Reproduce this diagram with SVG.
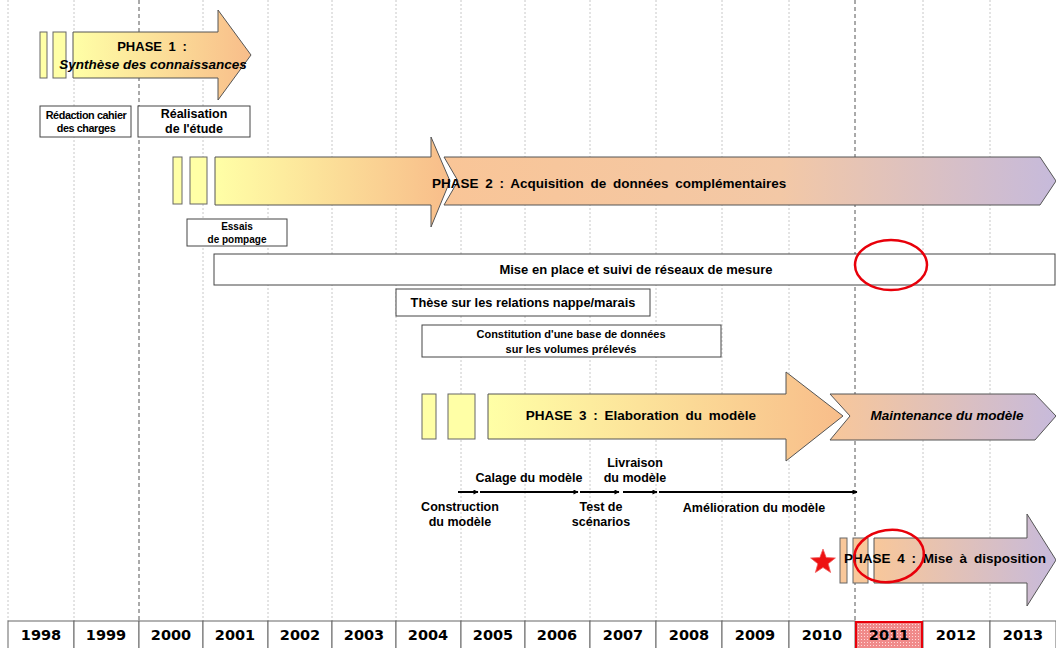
<svg xmlns="http://www.w3.org/2000/svg" width="1056" height="648" viewBox="0 0 1056 648">
<defs>
<linearGradient id="gYO" x1="0" y1="0" x2="1" y2="0"><stop offset="0" stop-color="#ffffa6"/><stop offset="1" stop-color="#f8bd8a"/></linearGradient>
<linearGradient id="gOL" x1="0" y1="0" x2="1" y2="0"><stop offset="0" stop-color="#f9c597"/><stop offset="0.55" stop-color="#f3c8a6"/><stop offset="1" stop-color="#c6badb"/></linearGradient>
<linearGradient id="gP4" x1="0" y1="0" x2="1" y2="0"><stop offset="0" stop-color="#f8c79a"/><stop offset="1" stop-color="#c7badb"/></linearGradient>
<pattern id="dots" width="3" height="3" patternUnits="userSpaceOnUse"><rect width="3" height="3" fill="#f08a8a"/><rect width="1" height="1" fill="#ffd8d8"/></pattern>
<marker id="ah" viewBox="0 0 10 10" refX="9" refY="5" markerWidth="6" markerHeight="5" orient="auto" markerUnits="userSpaceOnUse"><path d="M0,0 L10,5 L0,10 z" fill="#000"/></marker>
</defs>
<style>
.grid{stroke:#c8c8c8;stroke-width:1;stroke-dasharray:2 2}
.gridd{stroke:#555;stroke-width:1;stroke-dasharray:4 3}
.sq{fill:#ffffa6;stroke:#666;stroke-width:1}
.sqo{fill:#f8c79a;stroke:#666;stroke-width:1}
.arr{stroke:#555;stroke-width:1}
.box{fill:#fff;stroke:#444;stroke-width:1}
.t{font-family:"Liberation Sans",Arial,sans-serif;font-weight:bold;fill:#000;text-anchor:middle}
.ti{font-style:italic}
.ph{word-spacing:3px}
.yr{font-family:"DejaVu Sans",Verdana,sans-serif;font-weight:bold;font-size:14.5px;fill:#000;text-anchor:middle}
.cell{fill:#fff;stroke:#666;stroke-width:1}
.ln{stroke:#000;stroke-width:2;fill:none}
.circ{fill:none;stroke:#e8000a;stroke-width:2.5}
</style>
<rect width="1056" height="648" fill="#fff"/>
<g id="grid">
<line class="grid" x1="8" y1="0" x2="8" y2="621"/>
<line class="grid" x1="74" y1="0" x2="74" y2="621"/>
<line class="gridd" x1="139" y1="0" x2="139" y2="621"/>
<line class="grid" x1="203" y1="0" x2="203" y2="621"/>
<line class="grid" x1="268" y1="0" x2="268" y2="621"/>
<line class="grid" x1="332" y1="0" x2="332" y2="621"/>
<line class="grid" x1="396" y1="0" x2="396" y2="621"/>
<line class="grid" x1="461" y1="0" x2="461" y2="621"/>
<line class="grid" x1="525" y1="0" x2="525" y2="621"/>
<line class="grid" x1="590" y1="0" x2="590" y2="621"/>
<line class="grid" x1="656" y1="0" x2="656" y2="621"/>
<line class="grid" x1="722" y1="0" x2="722" y2="621"/>
<line class="grid" x1="789" y1="0" x2="789" y2="621"/>
<line class="gridd" x1="855" y1="0" x2="855" y2="621"/>
<line class="grid" x1="923" y1="0" x2="923" y2="621"/>
<line class="grid" x1="990" y1="0" x2="990" y2="621"/>
</g>
<g id="phase1">
<rect class="sq" x="40" y="32" width="7" height="46"/>
<rect class="sq" x="53" y="32" width="13" height="46"/>
<polygon class="arr" fill="url(#gYO)" points="73,32 218,32 218,10 251,55 218,100 218,78 73,78"/>
<text class="t ph" x="152" y="51" font-size="13">PHASE 1 :</text>
<text class="t ti" x="153" y="69" font-size="13.5">Synthèse des connaissances</text>
</g>
<g id="redaction">
<rect class="box" x="40" y="106" width="91" height="31"/>
<text class="t" x="86" y="119" font-size="10.8" letter-spacing="-0.4">Rédaction cahier</text>
<text class="t" x="86" y="132" font-size="10.8" letter-spacing="-0.4">des charges</text>
</g>
<g id="realisation">
<rect class="box" x="138" y="106" width="112" height="31"/>
<text class="t" x="194" y="118" font-size="12.5">Réalisation</text>
<text class="t" x="194" y="133" font-size="12.5">de l'étude</text>
</g>
<g id="phase2">
<rect class="sq" x="173" y="157" width="9" height="47"/>
<rect class="sq" x="190" y="157" width="17" height="47"/>
<polygon class="arr" fill="url(#gYO)" points="215,157 431,157 431,137 450,181 431,227 431,205 215,205"/>
<polygon class="arr" fill="url(#gOL)" points="444,157 1040,157 1056,181 1040,205 444,205 458,181"/>
<text class="t ph" x="432" y="188" font-size="13.5" text-anchor="start" style="text-anchor:start">PHASE 2 : Acquisition de données complémentaires</text>
</g>
<g id="essais">
<rect class="box" x="187" y="219" width="100" height="27"/>
<text class="t" x="237" y="230" font-size="10">Essais</text>
<text class="t" x="237" y="243" font-size="10">de pompage</text>
</g>
<g id="reseaux">
<rect class="box" x="214" y="254" width="841" height="31"/>
<text class="t" x="636" y="274" font-size="13">Mise en place et suivi de réseaux de mesure</text>
</g>
<g id="these">
<rect class="box" x="396" y="289" width="254" height="27"/>
<text class="t" x="523" y="307" font-size="12.8">Thèse sur les relations nappe/marais</text>
</g>
<g id="constitution">
<rect class="box" x="422" y="325" width="299" height="32"/>
<text class="t" x="571" y="338" font-size="11">Constitution d'une base de données</text>
<text class="t" x="571" y="353" font-size="11">sur les volumes prélevés</text>
</g>
<g id="phase3">
<rect class="sq" x="422" y="394" width="14" height="45"/>
<rect class="sq" x="448" y="394" width="27" height="45"/>
<polygon class="arr" fill="url(#gYO)" points="488,394 786,394 786,372 843,416 786,461 786,439 488,439"/>
<text class="t ph" x="641" y="420" font-size="13.5">PHASE 3 : Elaboration du modèle</text>
</g>
<g id="maintenance">
<polygon class="arr" fill="url(#gP4)" points="830,394 1035,394 1056,416 1035,440 830,440 850,416"/>
<text class="t ti" x="947" y="420" font-size="13.5">Maintenance du modèle</text>
</g>
<g id="connectors">
<line class="ln" x1="458" y1="492" x2="478" y2="492" marker-end="url(#ah)"/>
<line class="ln" x1="480" y1="492" x2="578" y2="492" marker-end="url(#ah)"/>
<line class="ln" x1="580" y1="492" x2="619" y2="492" marker-end="url(#ah)"/>
<line class="ln" x1="623" y1="492" x2="657" y2="492" marker-end="url(#ah)"/>
<line class="ln" x1="659" y1="492" x2="857" y2="492" marker-end="url(#ah)"/>
</g>
<g id="steps">
<text class="t" x="529" y="482" font-size="12.5">Calage du modèle</text>
<text class="t" x="635" y="467" font-size="12.5">Livraison</text>
<text class="t" x="635" y="482" font-size="12.5">du modèle</text>
<text class="t" x="460" y="511" font-size="12.5">Construction</text>
<text class="t" x="460" y="526" font-size="12.5">du modèle</text>
<text class="t" x="601" y="511" font-size="12.5">Test de</text>
<text class="t" x="601" y="526" font-size="12.5">scénarios</text>
<text class="t" x="754" y="512" font-size="12.5">Amélioration du modèle</text>
</g>
<g id="phase4">
<rect class="sqo" x="840" y="538" width="7" height="45"/>
<rect class="sqo" x="853" y="538" width="15" height="45"/>
<polygon class="arr" fill="url(#gP4)" points="874,538 1027,538 1027,514 1056,560 1027,606 1027,583 874,583"/>
<text class="t ph" x="945" y="563" font-size="13.5">PHASE 4 : Mise à disposition</text>
</g>
<g id="marks">
<polygon fill="#ee1111" stroke="#f06060" stroke-width="0.8" points="823,549 826.2,557.5 835.4,558 828.2,563.7 830.6,572.5 823,567.5 815.4,572.5 817.8,563.7 810.6,558 819.8,557.5"/>
<ellipse class="circ" cx="891" cy="265" rx="36" ry="25"/>
<ellipse class="circ" cx="889" cy="556" rx="35" ry="26" transform="rotate(-8 889 556)"/>
</g>
<g id="timeline">
<rect class="cell" x="8" y="621" width="66" height="30"/>
<rect class="cell" x="74" y="621" width="65" height="30"/>
<rect class="cell" x="139" y="621" width="64" height="30"/>
<rect class="cell" x="203" y="621" width="65" height="30"/>
<rect class="cell" x="268" y="621" width="64" height="30"/>
<rect class="cell" x="332" y="621" width="64" height="30"/>
<rect class="cell" x="396" y="621" width="65" height="30"/>
<rect class="cell" x="461" y="621" width="64" height="30"/>
<rect class="cell" x="525" y="621" width="65" height="30"/>
<rect class="cell" x="590" y="621" width="66" height="30"/>
<rect class="cell" x="656" y="621" width="66" height="30"/>
<rect class="cell" x="722" y="621" width="67" height="30"/>
<rect class="cell" x="789" y="621" width="66" height="30"/>
<rect class="cell" x="923" y="621" width="67" height="30"/>
<rect class="cell" x="990" y="621" width="66" height="30"/>
<rect x="856" y="622" width="66" height="28" fill="url(#dots)" stroke="#e8000a" stroke-width="2"/>
<text class="yr" x="41" y="640">1998</text>
<text class="yr" x="106" y="640">1999</text>
<text class="yr" x="171" y="640">2000</text>
<text class="yr" x="235" y="640">2001</text>
<text class="yr" x="300" y="640">2002</text>
<text class="yr" x="364" y="640">2003</text>
<text class="yr" x="428" y="640">2004</text>
<text class="yr" x="493" y="640">2005</text>
<text class="yr" x="557" y="640">2006</text>
<text class="yr" x="623" y="640">2007</text>
<text class="yr" x="689" y="640">2008</text>
<text class="yr" x="755" y="640">2009</text>
<text class="yr" x="822" y="640">2010</text>
<text class="yr" x="889" y="640" fill="#b01818">2011</text>
<text class="yr" x="956" y="640">2012</text>
<text class="yr" x="1023" y="640">2013</text>
</g>
</svg>
